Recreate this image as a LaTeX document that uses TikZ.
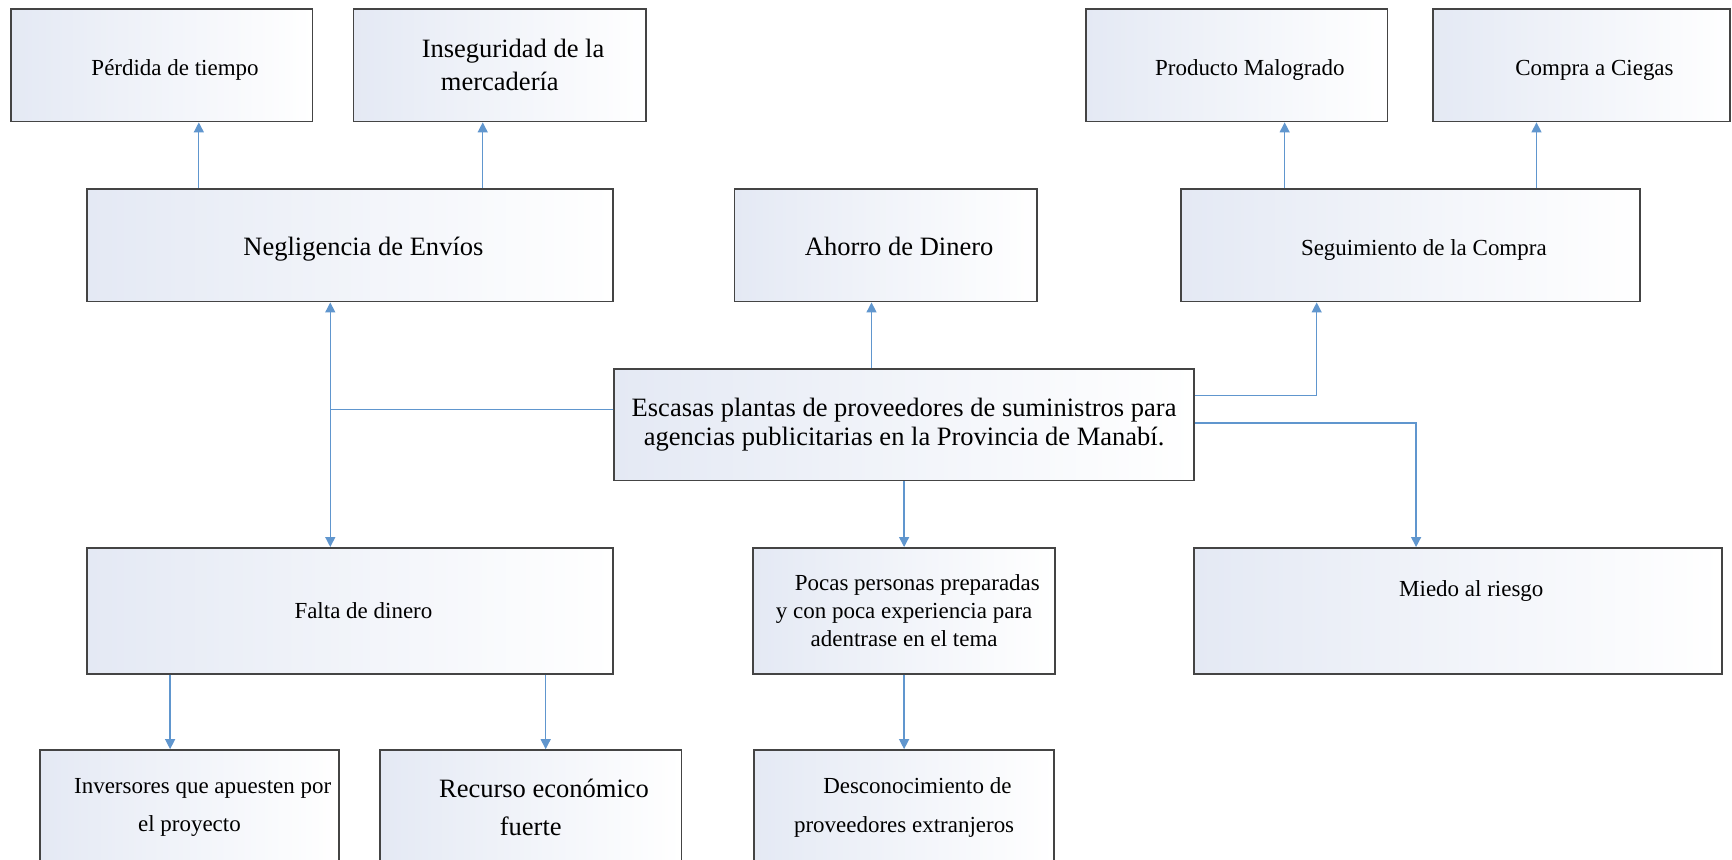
\documentclass[tikz,border=0pt]{standalone}
\usepackage{fontspec}
\setmainfont{Liberation Serif}
\usetikzlibrary{arrows.meta}
\definecolor{tinte}{RGB}{228,233,244}
\definecolor{borde}{RGB}{68,68,68}
\definecolor{azul}{RGB}{96,150,206}
\newcommand{\sangria}{\hspace*{12pt}}

\begin{document}
\begin{tikzpicture}[x=0.5pt, y=-0.5pt, >={Triangle[length=4.5pt, width=4.5pt]},
        caja/.style={draw=borde, line width=0.8pt, left color=tinte, middle color=tinte!35!white, right color=white, inner sep=2pt, align=center},
        grande/.style={font=\fontsize{12}{13.5}\selectfont},
        chica/.style={font=\fontsize{10.4}{12.75}\selectfont},
        baja/.style={text height=12pt, text depth=2.5pt},
        flecha/.style={->, draw=azul, line width=0.6pt}]
        \clip (0,0) rectangle (1568,778);
        \fill[white] (0,0) rectangle (1568,778);

        % efectos
        \node[caja, chica, baja, minimum width=136.5pt, minimum height=51pt] (perdida) at (146.5,59) {\sangria Pérdida de tiempo};
        \node[caja, font=\fontsize{12}{15}\selectfont, minimum width=132.5pt, minimum height=51pt] (insegur) at (452.5,59) {\sangria Inseguridad de la\\mercadería};
        \node[caja, chica, baja, minimum width=136.5pt, minimum height=51pt] (producto) at (1119.5,59) {\sangria Producto Malogrado};
        \node[caja, chica, baja, minimum width=134.5pt, minimum height=51pt] (compra) at (1431.5,59) {\sangria Compra a Ciegas};
        \node[caja, grande, baja, minimum width=238pt, minimum height=51pt] (neglig) at (317,222) {\sangria Negligencia de Envíos};
        \node[caja, grande, baja, minimum width=137pt, minimum height=51pt] (ahorro) at (802,222) {\sangria Ahorro de Dinero};
        \node[caja, chica, baja, minimum width=208pt, minimum height=51pt] (seguim) at (1277,222) {\sangria Seguimiento de la Compra};

        % problema
        \node[caja, grande, minimum width=262.5pt, minimum height=50.5pt] (escasas) at (818.5,384.5) {Escasas plantas de proveedores de suministros para\\agencias publicitarias en la Provincia de Manabí.};

        % causas
        \node[caja, chica, minimum width=238pt, minimum height=57pt] (falta) at (317,553) {\sangria Falta de dinero};
        \node[caja, chica, minimum width=136.5pt, minimum height=57pt] (pocas) at (818.5,553) {\sangria Pocas personas preparadas\\y con poca experiencia para\\adentrase en el tema};
        \node[caja, chica, minimum width=239pt, minimum height=57pt, text height=8pt, text depth=21.4pt] (miedo) at (1320,553) {\sangria Miedo al riesgo};
        \node[caja, font=\fontsize{10.4}{17.5}\selectfont, minimum width=135.5pt, minimum height=52pt] (inversores) at (171.5,731) {\sangria Inversores que apuesten por\\el proyecto};
        \node[caja, font=\fontsize{12}{17.5}\selectfont, minimum width=136.5pt, minimum height=52pt] (recurso) at (480.5,731) {\sangria Recurso económico\\fuerte};
        \node[caja, font=\fontsize{10.4}{17.5}\selectfont, minimum width=136pt, minimum height=52pt] (descon) at (818.5,731) {\sangria Desconocimiento de\\proveedores extranjeros};

        % conexiones
        \draw[flecha] ([xshift=-68.5pt]neglig.north) -- ([xshift=16.75pt]perdida.south);
        \draw[flecha] ([xshift=60pt]neglig.north) -- ([xshift=-7.75pt]insegur.south);
        \draw[flecha] ([xshift=-57pt]seguim.north) -- ([xshift=21.75pt]producto.south);
        \draw[flecha] ([xshift=57pt]seguim.north) -- ([xshift=-20.25pt]compra.south);
        \draw[flecha] ([xshift=-14.75pt]escasas.north) -- ([xshift=-6.5pt]ahorro.south);
        \draw[flecha] ([yshift=13.25pt]escasas.east) -| ([xshift=-42.5pt]seguim.south);
        \draw[flecha] ([yshift=0.75pt]escasas.east) -| ([xshift=-19pt]miedo.north);
        \draw[flecha] ([yshift=6.75pt]escasas.west) -| ([xshift=-9pt]neglig.south);
        \draw[flecha] ([yshift=6.75pt]escasas.west) -| ([xshift=-9pt]falta.north);
        \draw[flecha] (escasas.south) -- (pocas.north);
        \draw[flecha] (pocas.south) -- (descon.north);
        \draw[flecha] ([xshift=-81.5pt]falta.south) -- ([xshift=-8.75pt]inversores.north);
        \draw[flecha] ([xshift=88.5pt]falta.south) -- ([xshift=6.75pt]recurso.north);
    \end{tikzpicture}
\end{document}
